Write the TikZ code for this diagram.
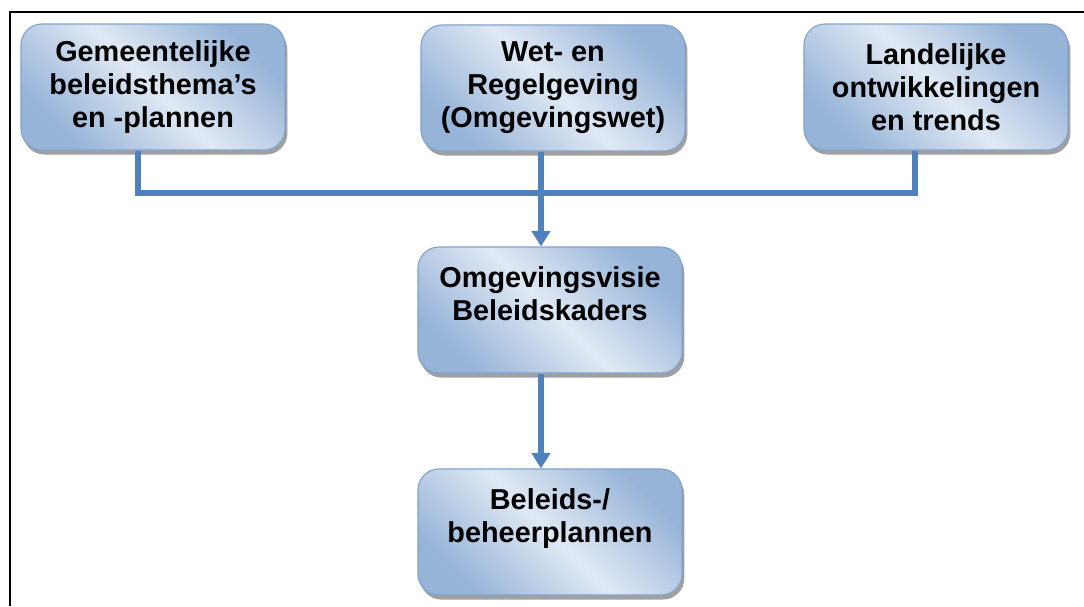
\documentclass[tikz,border=0pt]{standalone}
\usepackage{fontspec}
\setmainfont{Liberation Sans}
\usepackage{tikz}
\usetikzlibrary{arrows.meta, shadows, calc}
\definecolor{KaderBlauw}{RGB}{79,129,189}
\definecolor{KaderLicht}{RGB}{224,233,244}
\definecolor{KaderDonker}{RGB}{150,179,216}
\definecolor{KaderRand}{RGB}{130,162,206}

\tikzset{
  kader/.style={rectangle, rounded corners=15pt, draw=KaderRand, line width=0.8pt,
    top color=KaderDonker, bottom color=KaderDonker, middle color=KaderLicht, shading angle=-45,
    drop shadow={shadow xshift=1.6pt, shadow yshift=-3.2pt, fill=black!50, opacity=0.75},
    minimum width=6.6cm, minimum height=3.15cm, align=center,
    font=\bfseries\fontsize{20.5}{23.5}\selectfont},
  leiding/.style={draw=KaderBlauw, line width=4pt},
  pijl/.style={leiding, -{Triangle[width=13pt,length=11pt]}}
}

\begin{document}
\begin{tikzpicture}[x=0.025cm, y=-0.025cm]
    \useasboundingbox (0,0) rectangle (1084,606);
    \draw[line width=2pt] (10,606) -- (10,12) -- (1084,12);

    \node[kader] (gem) at (153, 87) {Gemeentelijke\\beleidsthema’s\\en -plannen};
    \node[kader] (wet) at (553, 88) {Wet- en\\Regelgeving\\(Omgevingswet)};
    \node[kader] (lan) at (936, 87) {Landelijke\\ontwikkelingen\\en trends};
    \node[kader] (omg) at (550, 310) {Omgevingsvisie\\Beleidskaders\\\mbox{}};
    \node[kader] (bel) at (550, 532) {Beleids-/\\beheerplannen\\\mbox{}};

    \coordinate (knoop) at (541, 193);

    \path[leiding] ([xshift=-0.375cm]gem.south) |- (knoop) -| ([xshift=-0.525cm]lan.south);
    \path[pijl] (wet.south -| knoop) -- (omg.north -| knoop);
    \path[pijl] (omg.south -| knoop) -- (bel.north -| knoop);
\end{tikzpicture}
\end{document}
